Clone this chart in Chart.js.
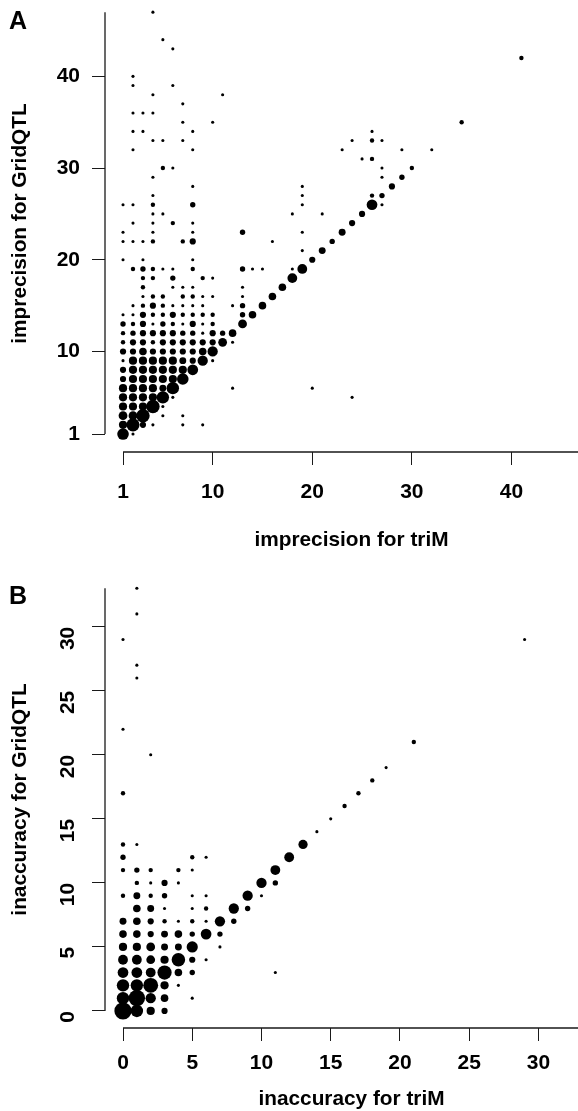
<!DOCTYPE html>
<html>
<head>
<meta charset="utf-8">
<title>imprecision and inaccuracy, triM vs GridQTL</title>
<script src="https://cdn.jsdelivr.net/npm/chart.js@4"></script>
<style>
    html, body { margin: 0; padding: 0; background: #fff; overflow: hidden; }
    #page { position: relative; width: 578px; height: 1111px; overflow: hidden; }
    canvas { position: absolute; left: 0; }
    #chart-a { top: -20px; }
    #chart-b { top: 560px; }
    .panel-letter {
        position: absolute; left: 9px;
        font: bold 25px "Liberation Sans", Arial, sans-serif; line-height: 25px; color: #000;
    }
</style>
</head>
<body>
<div id="page">
    <canvas id="chart-a" width="598" height="596"></canvas>
    <canvas id="chart-b" width="598" height="552"></canvas>
    <div class="panel-letter" style="top: 8px">A</div>
    <div class="panel-letter" style="top: 583px">B</div>
</div>
<script>
// ── Data ──────────────────────────────────────────────────────────────────────
// One entry per row of dots: the GridQTL value, the triM values on that row and
// the estimated number of loci stacked at each of them (drawn as dot area).

const imprecisionTicks = [1, 10, 20, 30, 40];

const imprecisionGrid = [47, 44, 43, 42, 40, 39, 38, 37, 36, 35, 34, 33, 32, 31, 30, 29, 28, 27, 26, 25,
    24, 23, 22, 21, 20, 19, 18, 17, 16, 15, 14, 13, 12, 11, 10, 9, 8, 7, 6, 5, 4, 3, 2, 1];

const imprecisionTrim = [
    [4], [5], [6], [41], [2], [2, 6], [4, 11], [7], [2, 3, 4], [7, 10, 35],
    [2, 3, 8, 26], [4, 5, 7, 24, 26, 27], [2, 8, 23, 29, 32], [25, 26], [5, 6, 27, 30],
    [4, 27, 29], [8, 19, 28], [4, 19, 26, 27], [1, 2, 4, 8, 19, 26, 27], [4, 5, 18, 21, 25],
    [2, 4, 6, 8, 24], [1, 4, 8, 13, 19, 23], [1, 2, 3, 4, 7, 8, 16, 22], [19, 21], [1, 3, 8, 20],
    [2, 3, 4, 5, 6, 8, 13, 14, 15, 18, 19], [3, 4, 6, 9, 10, 18], [3, 6, 7, 8, 13, 17],
    [3, 4, 5, 7, 8, 9, 10, 13, 16], [2, 3, 4, 5, 6, 7, 8, 9, 12, 13, 15],
    [1, 2, 3, 4, 5, 6, 7, 8, 9, 10, 13, 14], [1, 2, 3, 4, 5, 6, 7, 8, 9, 10, 13],
    [1, 2, 3, 4, 5, 6, 7, 8, 9, 10, 11, 12], [1, 2, 3, 4, 5, 6, 7, 8, 9, 10, 11, 12],
    [1, 2, 3, 4, 5, 6, 7, 8, 9, 10], [1, 2, 3, 4, 5, 6, 7, 8, 9, 10], [1, 2, 3, 4, 5, 6, 7, 8],
    [1, 2, 3, 4, 5, 6, 7], [1, 2, 3, 4, 5, 6, 12, 20], [1, 2, 3, 4, 5, 6, 24], [1, 2, 3, 4, 5],
    [1, 2, 3, 5, 7], [1, 2, 3, 4, 7, 9], [1, 2],
];

const imprecisionCount = [
    [1], [1], [1], [2], [1], [1, 1], [1, 1], [1], [1, 1, 1], [1, 1, 2],
    [1, 1, 1, 1], [1, 1, 1, 1, 2, 1], [1, 1, 1, 1, 1], [1, 2], [2, 1, 1, 2],
    [1, 1, 3], [1, 1, 4], [1, 1, 2, 3], [1, 1, 2, 3, 1, 12, 1], [1, 1, 1, 1, 4],
    [1, 1, 2, 1, 4], [1, 1, 1, 3, 1, 5], [1, 1, 1, 2, 2, 4, 1, 3], [1, 5], [1, 1, 1, 4],
    [2, 3, 2, 1, 1, 2, 3, 1, 1, 1, 10], [2, 2, 3, 2, 1, 10], [2, 1, 1, 1, 1, 6],
    [1, 2, 2, 2, 2, 1, 1, 1, 6], [1, 2, 4, 2, 1, 1, 1, 1, 1, 3, 6],
    [1, 1, 4, 2, 2, 4, 2, 2, 2, 2, 3, 6], [3, 2, 4, 1, 3, 2, 1, 4, 1, 2, 8],
    [2, 3, 4, 4, 4, 4, 3, 3, 1, 4, 3, 6], [2, 4, 4, 2, 4, 4, 4, 4, 4, 4, 8, 1],
    [4, 4, 6, 4, 4, 4, 4, 4, 6, 11], [1, 7, 7, 7, 7, 7, 5, 4, 11, 1], [4, 7, 7, 7, 7, 7, 7, 12],
    [4, 7, 7, 7, 7, 7, 14], [7, 7, 7, 7, 5, 16, 1, 1], [7, 7, 7, 7, 16, 1, 1], [7, 7, 7, 19, 1],
    [8, 8, 19, 1, 1], [7, 18, 4, 1, 1, 1], [14, 1],
];

const inaccuracyXTicks = [0, 5, 10, 15, 20, 25, 30];
const inaccuracyYTicks = [0, 5, 10, 15, 20, 25, 30];

const inaccuracyGrid = [33, 31, 29, 27, 26, 22, 21, 20, 19, 18, 17, 16, 15, 14,
    13, 12, 11, 10, 9, 8, 7, 6, 5, 4, 3, 2, 1, 0];

const inaccuracyTrim = [
    [1], [1], [0, 29], [1], [1], [0], [21], [2], [19], [18], [0, 17], [16], [15], [14],
    [0, 1, 13], [0, 5, 6, 12], [0, 1, 2, 4, 5, 11], [1, 2, 3, 4, 10, 11],
    [0, 1, 2, 3, 5, 6, 9, 10], [1, 2, 3, 5, 6, 8, 9], [0, 1, 2, 3, 4, 5, 6, 7, 8],
    [0, 1, 2, 3, 4, 5, 6, 7], [0, 1, 2, 3, 4, 5, 7], [0, 1, 2, 3, 4, 5, 6],
    [0, 1, 2, 3, 4, 5, 11], [0, 1, 2, 3, 4], [0, 1, 2, 3, 5], [0, 1, 2, 3],
];

const inaccuracyCount = [
    [1], [1], [1, 1], [1], [1], [1], [2], [1], [1], [2], [2, 2], [2], [1], [1],
    [2, 1, 9], [3, 2, 1, 10], [2, 3, 2, 2, 1, 10], [2, 1, 4, 1, 11, 3],
    [2, 5, 2, 3, 1, 1, 11, 1], [6, 5, 1, 1, 2, 11, 3], [5, 6, 4, 2, 1, 2, 1, 11, 3],
    [6, 6, 4, 5, 6, 3, 12, 3], [7, 7, 8, 5, 5, 13, 1], [10, 10, 8, 7, 19, 4, 1],
    [12, 12, 10, 21, 6, 3, 1], [16, 16, 23, 7, 1], [16, 28, 11, 6, 1], [31, 16, 7, 4],
];

// ── Helpers ───────────────────────────────────────────────────────────────────

const FONT = '"Liberation Sans", Arial, sans-serif';
const INK  = "#1a1a1a";

// Dot area is proportional to the count
function dotRadius(count) {
    return 1.55 * Math.sqrt(count);
}

function buildPoints(grid, trim, count) {
    const points = [];
    grid.forEach((y, i) => {
        trim[i].forEach((x, j) => {
            points.push({ x: x, y: y, r: dotRadius(count[i][j]) });
        });
    });
    return points;
}

// R style axes: the line only runs between its end values, away from the plot
const rangeAxes = {
    id: "rangeAxes",
    afterDraw(chart, args, opts) {
        const { ctx, scales: { x, y } } = chart;
        ctx.save();
        ctx.strokeStyle = INK;
        ctx.lineWidth = 1.3;
        ctx.beginPath();
        ctx.moveTo(x.getPixelForValue(opts.x[0]), y.bottom);
        ctx.lineTo(x.getPixelForValue(opts.x[1]), y.bottom);
        ctx.moveTo(x.left, y.getPixelForValue(opts.y[0]));
        ctx.lineTo(x.left, y.getPixelForValue(opts.y[1]));
        ctx.stroke();
        ctx.restore();
    },
};

function axisOptions(cfg) {
    return {
        type: "linear",
        min: cfg.min,
        max: cfg.max,
        border: { display: false },
        grid: {
            drawOnChartArea: false,
            tickLength: 13,
            tickWidth: 1,
            tickColor: INK,
        },
        ticks: {
            autoSkip: false,
            color: "#000",
            padding: cfg.padding,
            minRotation: cfg.rotation || 0,
            maxRotation: cfg.rotation || 0,
            font: { family: FONT, size: 21, weight: "bold" },
            callback: v => String(v),
        },
        title: {
            display: true,
            text: cfg.title,
            color: "#000",
            padding: cfg.titlePadding,
            font: { family: FONT, size: 20.8, weight: "bold" },
        },
        afterBuildTicks: axis => { axis.ticks = cfg.ticks.map(v => ({ value: v })); },
        afterFit: axis => {
            if (cfg.width)  axis.width  = cfg.width;
            if (cfg.height) axis.height = cfg.height;
            // tick labels sit well inside the axis, they need no extra margin
            axis.paddingTop = axis.paddingBottom = axis.paddingLeft = axis.paddingRight = 0;
        },
    };
}

function makeChart(id, points, cfg) {
    new Chart(document.getElementById(id).getContext("2d"), {
        type: "bubble",
        data: {
            datasets: [{
                data: points,
                backgroundColor: "#000",
                borderWidth: 0,
                clip: false,
            }],
        },
        options: {
            responsive: false,
            animation: false,
            layout: { autoPadding: false, padding: { top: cfg.top, left: 0, right: 0, bottom: 0 } },
            plugins: {
                legend: { display: false },
                tooltip: { enabled: false },
                rangeAxes: cfg.axisEnds,
            },
            scales: { x: axisOptions(cfg.x), y: axisOptions(cfg.y) },
        },
        plugins: [rangeAxes],
    });
}

// ── Panel A ───────────────────────────────────────────────────────────────────

makeChart("chart-a", buildPoints(imprecisionGrid, imprecisionTrim, imprecisionCount), {
    top: 15,
    axisEnds: { x: [1, 47], y: [1, 47] },
    x: {
        min: -0.81, max: 48.69, ticks: imprecisionTicks, padding: 15, height: 124,
        title: "imprecision for triM",
        titlePadding: { top: 0, bottom: 23 },
    },
    y: {
        min: -0.96, max: 48.87, ticks: imprecisionTicks, padding: 12, width: 105,
        title: "imprecision for GridQTL",
        titlePadding: { top: 8, bottom: 0 },
    },
});

// ── Panel B ───────────────────────────────────────────────────────────────────

makeChart("chart-b", buildPoints(inaccuracyGrid, inaccuracyTrim, inaccuracyCount), {
    top: 11,
    axisEnds: { x: [0, 33], y: [0, 33] },
    x: {
        min: -1.3, max: 34.3, ticks: inaccuracyXTicks, padding: 10, height: 84,
        title: "inaccuracy for triM",
        titlePadding: { top: 0, bottom: 0 },
    },
    y: {
        min: -1.33, max: 34.35, ticks: inaccuracyYTicks, padding: 24, width: 105, rotation: 90,
        title: "inaccuracy for GridQTL",
        titlePadding: { top: 8, bottom: 0 },
    },
});
</script>
</body>
</html>
